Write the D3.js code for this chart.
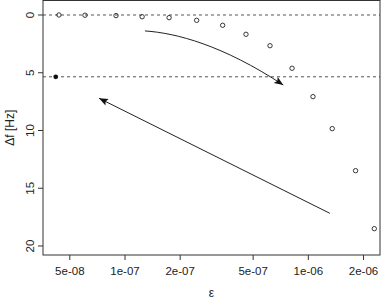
<!DOCTYPE html>
<html lang="en">
<head>
  <meta charset="UTF-8">
  <title>Delta f vs epsilon</title>
  <script src="https://d3js.org/d3.v7.min.js"></script>
  <style>
    body { margin: 0; background: #fff; }
    text { font-family: "Liberation Sans", Arial, Helvetica, sans-serif; fill: #222; }
  </style>
</head>
<body>
  <svg id="chart" width="382" height="300"></svg>
  <script>
    // data
    var epsValues = [4.36e-8, 6.05e-8, 8.93e-8, 1.24e-7, 1.74e-7, 2.46e-7, 3.41e-7,
                     4.57e-7, 6.18e-7, 8.15e-7, 1.06e-6, 1.35e-6, 1.81e-6, 2.29e-6]
    var dfValues = [0.0, 0.02, 0.05, 0.15, 0.23, 0.46, 0.89,
                    1.67, 2.66, 4.61, 7.07, 9.84, 13.48, 18.5]
    var markedPoint = [4.19e-8, 5.35]
    var refLines = [0, 5.35]
    var xTicks = [5e-8, 1e-7, 2e-7, 5e-7, 1e-6, 2e-6]
    var xTickLabels = ["5e-08", "1e-07", "2e-07", "5e-07", "1e-06", "2e-06"]
    var yTicks = [0, 5, 10, 15, 20]
    // arrows: [x, y] in data units (start, control 1, control 2, end)
    var curvedArrow = [[1.285e-7, 1.38], [1.9e-7, 1.56], [3.4e-7, 2.6], [7.3e-7, 6.06]]
    var straightArrow = [[1.31e-6, 17.17], [7.22e-8, 7.21]]

    var svg = d3.select("#chart")
    var pL = 43, pR = 380, pT = 0.5, pB = 255

    var x = d3.scaleLog().domain([3.57e-8, 2.46e-6]).range([pL, pR])
    var y = d3.scaleLinear().domain([-1.255, 20.78]).range([pT, pB])

    svg.append("defs").append("marker")
      .attr("id", "head")
      .attr("viewBox", "0 0 10 10")
      .attr("refX", 10).attr("refY", 5)
      .attr("markerWidth", 9).attr("markerHeight", 9)
      .attr("markerUnits", "userSpaceOnUse")
      .attr("orient", "auto")
      .append("path")
      .attr("d", "M0,1 L10,5 L0,9 L2,5 Z")
      .attr("fill", "#111")

    // reference lines
    svg.append("g").selectAll("line")
      .data(refLines)
      .enter()
      .append("line")
      .attr("x1", pL).attr("x2", pR)
      .attr("y1", function (d) { return y(d) }).attr("y2", function (d) { return y(d) })
      .attr("stroke", "#555")
      .attr("stroke-width", 1)
      .attr("stroke-dasharray", "3,3")

    // box
    svg.append("rect")
      .attr("x", pL).attr("y", pT)
      .attr("width", pR - pL).attr("height", pB - pT)
      .attr("fill", "none").attr("stroke", "#333").attr("stroke-width", 1)

    // x axis
    var gx = svg.append("g").attr("transform", "translate(0," + pB + ")")
    gx.selectAll("line").data(xTicks).enter().append("line")
      .attr("x1", function (d) { return x(d) }).attr("x2", function (d) { return x(d) })
      .attr("y1", 0).attr("y2", 5)
      .attr("stroke", "#333")
    gx.selectAll("text").data(xTicks).enter().append("text")
      .attr("x", function (d) { return x(d) })
      .attr("y", 19.5)
      .attr("text-anchor", "middle")
      .style("font-size", "11.5px")
      .text(function (d, i) { return xTickLabels[i] })

    // y axis
    var gy = svg.append("g")
    gy.selectAll("line").data(yTicks).enter().append("line")
      .attr("x1", pL - 5).attr("x2", pL)
      .attr("y1", function (d) { return y(d) }).attr("y2", function (d) { return y(d) })
      .attr("stroke", "#333")
    gy.selectAll("text").data(yTicks).enter().append("text")
      .attr("transform", function (d) { return "translate(33.5," + y(d) + ")rotate(-90)" })
      .attr("text-anchor", "middle")
      .style("font-size", "11.5px")
      .text(function (d) { return d })

    // titles
    svg.append("text")
      .attr("x", (pL + pR) / 2).attr("y", 297)
      .attr("text-anchor", "middle")
      .style("font-size", "12px")
      .text("ε")
    svg.append("text")
      .attr("transform", "translate(14," + (pT + pB) / 2 + ")rotate(-90)")
      .attr("text-anchor", "middle")
      .style("font-size", "12px")
      .text("Δf [Hz]")

    // points
    svg.append("g").selectAll("circle")
      .data(epsValues)
      .enter()
      .append("circle")
      .attr("cx", function (d) { return x(d) })
      .attr("cy", function (d, i) { return y(dfValues[i]) })
      .attr("r", 2.2)
      .attr("fill", "none")
      .attr("stroke", "#222")
      .attr("stroke-width", 0.9)

    svg.append("circle")
      .attr("cx", x(markedPoint[0])).attr("cy", y(markedPoint[1]))
      .attr("r", 2.4)
      .attr("fill", "#111")

    // arrows
    var c = curvedArrow.map(function (p) { return [x(p[0]), y(p[1])] })
    var curve = d3.path()
    curve.moveTo(c[0][0], c[0][1])
    curve.bezierCurveTo(c[1][0], c[1][1], c[2][0], c[2][1], c[3][0], c[3][1])
    svg.append("path")
      .attr("d", curve.toString())
      .attr("fill", "none")
      .attr("stroke", "#222")
      .attr("stroke-width", 1)
      .attr("marker-end", "url(#head)")

    svg.append("line")
      .attr("x1", x(straightArrow[0][0])).attr("y1", y(straightArrow[0][1]))
      .attr("x2", x(straightArrow[1][0])).attr("y2", y(straightArrow[1][1]))
      .attr("stroke", "#222")
      .attr("stroke-width", 1)
      .attr("marker-end", "url(#head)")
  </script>
</body>
</html>
